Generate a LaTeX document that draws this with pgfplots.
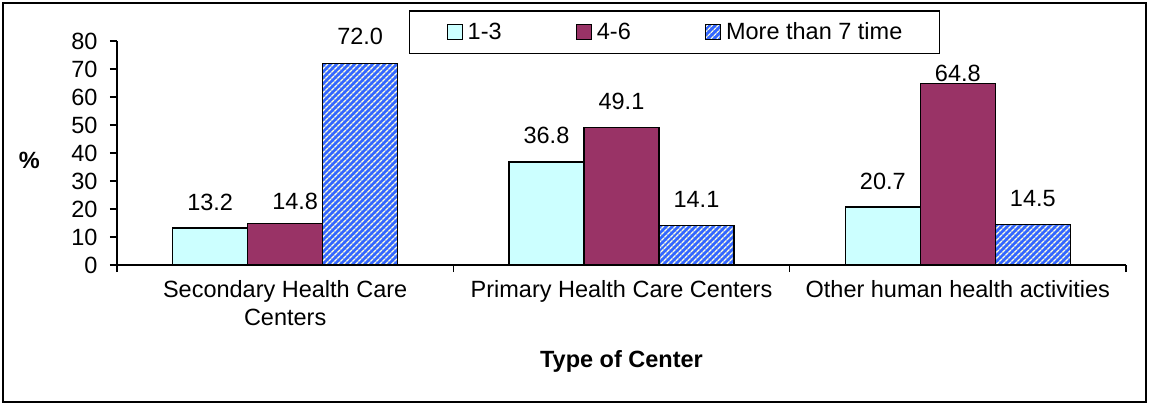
\documentclass[border=0pt]{standalone}
\usepackage{fontspec}
\setmainfont{Liberation Sans}
\usepackage{pgfplots}
\usepackage{pgfplotstable}
\pgfplotsset{compat=1.18}
\usetikzlibrary{patterns.meta}
\definecolor{cyanlight}{HTML}{CCFFFF}
\definecolor{maroonx}{HTML}{993366}
\definecolor{hblue}{HTML}{3366FF}
\definecolor{stripe}{HTML}{FFFFDD}
\pgfplotsset{sqleg/.style={legend image code/.code={\draw[##1, line width=1.2pt] (0pt,-7.5pt) rectangle (15pt,7.5pt);}}}
\pgfplotstableread{
x y dx dy
0 13.2 0 18
1 36.8 0 18
2 20.7 0 18
}\tA
\pgfplotstableread{
x y dx dy
0 14.8 10 14.5
1 49.1 0 18
2 64.8 0 2
}\tB
\pgfplotstableread{
x y dx dy
0 72.0 0 19
1 14.1 0 18
2 14.5 0 18
}\tC
\begin{document}
\begin{tikzpicture}[font=\fontsize{23.5}{28}\selectfont, x=1pt, y=1pt]
\path[use as bounding box] (0,0) rectangle (1149,405);
\draw[line width=1.5pt] (3,3) rectangle (1146,402);
\begin{axis}[
  at={(117pt,140pt)}, anchor=south west,
  scale only axis, width=1009pt, height=224pt,
  ybar=0pt, bar width=75pt,
  xmin=-0.5, xmax=2.5, ymin=0, ymax=80,
  clip=false,
  axis lines*=left,
  axis line style={line width=1.5pt, -},
  /pgf/number format/assume math mode=true,
  ytick={0,10,...,80},
  xtick={-0.5,0.5,1.5,2.5}, xticklabels={},
  extra x ticks={0,1,2},
  extra x tick labels={Secondary Health Care\\Centers, Primary Health Care Centers, Other human health activities},
  extra x tick style={major tick length=0pt},
  tick align=outside, major tick length=7pt,
  tick style={line width=1.5pt, black},
  xticklabel style={align=center, anchor=north, yshift=-12pt},
  yticklabel style={xshift=-9pt},
  xlabel={\bfseries Type of Center},
  xlabel style={at={(rel axis cs:0.5,-0.43)}, anchor=center},
  ylabel={\bfseries \%},
  ylabel style={rotate=-90, at={(rel axis cs:-0.087,0.469)}, anchor=center},
  visualization depends on={\thisrow{dx} \as \dx},
  visualization depends on={\thisrow{dy} \as \dy},
  nodes near coords={\pgfmathprintnumber[fixed,fixed zerofill,precision=1,assume math mode=true]{\pgfplotspointmeta}},
  nodes near coords style={anchor=base, inner sep=0pt, yshift=\dy pt, xshift=\dx pt, black},
  legend columns=3,
  legend style={at={(0.5525,1.040)}, anchor=center, draw=black, line width=1.5pt,
    fill=white,
    inner xsep=37pt, inner ysep=12pt,
    nodes={inner xsep=0pt, inner ysep=0pt},
    /tikz/column 1/.style={column sep=5pt},
    /tikz/column 3/.style={column sep=5pt},
    /tikz/column 5/.style={column sep=5pt},
    /tikz/column 2/.style={column sep=74pt},
    /tikz/column 4/.style={column sep=74pt}},
]
\addplot[fill=cyanlight, draw=black, line width=1.2pt, sqleg]
  table[x=x, y=y] {\tA};
\addplot[fill=maroonx, draw=black, line width=1.2pt, sqleg]
  table[x=x, y=y] {\tB};
\addplot[fill=hblue, draw=black, line width=1.2pt,
  postaction={pattern={Lines[angle=45,distance=4pt,line width=1.4pt]}, pattern color=stripe}, sqleg]
  table[x=x, y=y] {\tC};
\legend{1-3, 4-6, More than 7 time}
\end{axis}
\end{tikzpicture}
\end{document}
